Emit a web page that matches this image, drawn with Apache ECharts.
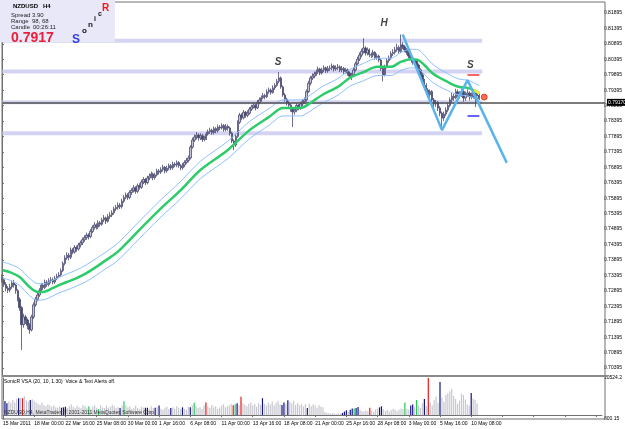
<!DOCTYPE html>
<html>
<head>
<meta charset="utf-8">
<script src="https://cdn.jsdelivr.net/npm/echarts@6/dist/echarts.min.js"></script>
<style>
html, body { margin: 0; padding: 0; background: #fff; }
#chart { width: 625px; height: 429px; }
</style>
</head>
<body>
<div id="chart"></div>
<script>
// NZDUSD H4, prices in 1/10000, one entry per bar
const firstOpen = 7330;
const closes = [
  7325,7310,7298,7292,7302,7315,7308,7290,7262,7235,
  7180,7205,7195,7178,7163,7205,7244,7262,7276,7290,
  7308,7300,7318,7310,7322,7325,7318,7330,7336,7341,
  7355,7378,7396,7405,7398,7422,7415,7430,7425,7438,
  7445,7455,7462,7470,7465,7482,7495,7503,7496,7510,
  7505,7519,7526,7515,7530,7535,7542,7555,7560,7567,
  7562,7580,7592,7600,7592,7608,7615,7623,7612,7630,
  7625,7642,7650,7640,7655,7661,7668,7656,7665,7678,
  7674,7682,7690,7678,7687,7695,7688,7700,7697,7705,
  7695,7688,7697,7705,7712,7720,7755,7778,7788,7794,
  7785,7792,7780,7784,7798,7805,7810,7802,7815,7808,
  7820,7817,7825,7812,7822,7817,7800,7775,7762,7790,
  7835,7859,7850,7868,7858,7865,7878,7885,7891,7882,
  7900,7908,7915,7922,7918,7934,7940,7932,7947,7955,
  7968,7979,7950,7924,7910,7898,7891,7880,7869,7875,
  7890,7882,7895,7902,7908,7935,7962,7979,7985,7992,
  7998,8008,7995,8005,8012,8002,8010,8011,8018,8008,
  8012,8015,8005,8010,8000,8005,7995,7985,7989,8005,
  8025,8040,8053,8065,8076,8060,8070,8055,8053,8062,
  8045,8050,8037,8010,7989,8015,8035,8044,8058,8062,
  8070,8078,8065,8086,8080,8070,8062,8050,8044,8030,
  8035,8021,8005,7989,7970,7955,7940,7925,7935,7908,
  7895,7900,7882,7865,7849,7862,7875,7890,7908,7920,
  7915,7934,7928,7924,7935,7914,7925,7930,7918,7921,
  7930,7911,7922,7917
];
const highs = [
  7342,7332,7318,7305,7312,7322,7325,7312,7295,7268,
  7240,7215,7212,7200,7185,7212,7252,7270,7285,7298,
  7315,7314,7326,7324,7330,7334,7332,7338,7345,7350,
  7362,7385,7405,7414,7412,7430,7428,7438,7436,7445,
  7452,7462,7470,7478,7476,7490,7502,7512,7508,7518,
  7516,7526,7535,7530,7538,7544,7550,7562,7568,7576,
  7574,7588,7600,7608,7606,7615,7622,7632,7628,7637,
  7638,7650,7658,7655,7662,7670,7676,7672,7672,7685,
  7684,7690,7698,7694,7695,7702,7700,7708,7706,7712,
  7710,7700,7704,7712,7720,7728,7762,7786,7796,7804,
  7800,7800,7798,7792,7805,7812,7818,7815,7822,7820,
  7828,7826,7832,7830,7830,7828,7822,7805,7780,7798,
  7842,7866,7865,7875,7872,7874,7885,7892,7900,7896,
  7908,7916,7922,7930,7928,7942,7948,7945,7955,7962,
  7976,7998,7984,7955,7930,7915,7905,7896,7885,7884,
  7898,7895,7902,7910,7916,7942,7970,7986,7994,8000,
  8006,8016,8012,8012,8020,8016,8018,8020,8026,8022,
  8020,8024,8020,8018,8015,8012,8010,8000,7996,8012,
  8032,8048,8062,8074,8108,8082,8078,8075,8062,8070,
  8066,8058,8055,8042,8015,8022,8042,8052,8066,8072,
  8080,8090,8084,8120,8095,8086,8076,8068,8058,8050,
  8042,8040,8026,8010,7995,7976,7962,7946,7942,7940,
  7914,7908,7905,7888,7870,7870,7884,7898,7916,7930,
  7928,7944,7942,7936,7945,7940,7935,7942,7936,7932,
  7940,7935,7932,7928
];
const lows = [
  7315,7302,7288,7282,7285,7296,7300,7280,7255,7225,
  7098,7170,7182,7165,7150,7158,7198,7238,7255,7270,
  7284,7292,7295,7302,7304,7314,7310,7312,7324,7330,
  7336,7350,7372,7390,7388,7392,7408,7410,7416,7420,
  7430,7438,7448,7455,7456,7460,7476,7488,7488,7490,
  7497,7500,7512,7506,7510,7522,7528,7536,7548,7552,
  7554,7556,7574,7586,7584,7586,7600,7608,7604,7606,
  7617,7620,7635,7632,7634,7648,7654,7648,7650,7660,
  7666,7668,7676,7670,7672,7680,7680,7682,7690,7690,
  7688,7680,7682,7690,7700,7706,7715,7750,7772,7780,
  7776,7778,7772,7774,7778,7792,7798,7795,7796,7800,
  7802,7810,7812,7805,7806,7808,7792,7768,7745,7756,
  7785,7830,7842,7845,7850,7852,7860,7872,7880,7874,
  7878,7894,7902,7910,7910,7914,7928,7925,7928,7940,
  7950,7962,7944,7918,7902,7890,7882,7870,7820,7860,
  7868,7874,7876,7888,7895,7902,7930,7955,7972,7978,
  7986,7992,7988,7990,7998,7995,7996,8002,8004,8000,
  8002,8005,7998,7998,7992,7994,7986,7976,7972,7984,
  8000,8020,8034,8046,8058,8052,8052,8046,8044,8046,
  8038,8038,8030,8002,7968,7984,8010,8028,8038,8050,
  8055,8064,8058,8060,8072,8062,8054,8042,8036,8022,
  8022,8012,7996,7980,7960,7945,7930,7915,7916,7898,
  7884,7886,7872,7855,7810,7840,7855,7868,7884,7900,
  7905,7910,7918,7912,7918,7902,7905,7918,7906,7910,
  7912,7885,7905,7908
];
const volumes = [
  4500,4000,3400,3900,3500,4300,3600,4600,4800,4900,
  4800,5300,4200,3800,4300,4500,4100,3600,3200,2900,
  3600,2800,2500,3100,2700,2400,2800,2200,2100,2500,
  2100,2200,2400,2000,2500,3100,2400,2100,2700,2200,
  2000,2900,2500,2100,2500,1800,2400,2800,2100,1700,
  2800,2200,2000,2700,2100,2400,2900,2500,2000,2200,
  2000,2700,3900,2800,2200,2500,1800,2100,2700,2000,
  1700,2400,2100,2100,2100,1800,2500,2000,2100,2200,
  2700,1800,1500,2100,2400,1700,2000,2200,1800,2500,
  2100,1700,2200,1800,1500,2400,2200,2800,3500,2500,
  2000,2200,1700,2700,3600,2400,2000,2900,2200,2500,
  1800,2100,2700,3100,2200,2500,2800,3200,2800,3100,
  3400,2800,5200,3400,2900,2500,3200,3600,2800,3100,
  2400,3500,2900,4800,3200,2700,3600,3100,3900,2800,
  3500,4100,3100,2900,3600,3200,4200,3800,3400,4100,
  2900,3500,2800,3200,2500,3100,2000,3200,2500,3100,
  2700,2100,2900,2400,2200,900,700,500,400,600,
  400,300,500,400,600,1000,1400,900,1500,1900,
  1900,2000,2300,1500,1200,1000,1400,1100,2100,1300,
  900,1600,1800,2200,2500,1700,1200,1500,1000,1400,
  1800,1500,1100,1600,1900,1700,3600,1800,1600,2700,
  3000,2200,4300,2800,2000,3400,4600,2600,10500,3600,
  2800,4200,5200,3500,9400,5000,3800,5700,6200,6800,
  7400,5400,4600,3200,4100,6100,5700,4400,3000,2700,
  6300,4700,4300,3300
];
// VSA signal bars
const navyBars = [1,2,8,14,30,31,32,60,73,74,78,80,86,92,96,120,133,143,144,146,156,174,175,176,178,179,181,182,193,194,209,210,216,224,240];
const redBars = [10,104,118,122,188,218];
const greenBars = [44,49,62,98,119,180,206,212];

// moving average and its channel, read at these bars
const maIdx = [0,4,9,14,18,21,26,29,33,38,43,48,53,57,60,70,80,91,101,115,126,136,143,152,157,163,171,177,184,191,198,203,208,212,215,219,223,227,230,233,237,240,243];
const maMid = [7357,7350,7334,7302,7286,7286,7299,7308,7318,7331,7347,7367,7389,7406,7422,7487,7551,7616,7681,7746,7810,7853,7882,7882,7898,7924,7950,7979,7998,8015,8015,8031,8040,8037,8021,7995,7979,7966,7956,7950,7947,7940,7930];
const maUp = [7383,7376,7361,7330,7313,7312,7324,7333,7344,7357,7374,7394,7416,7434,7450,7515,7579,7644,7709,7774,7838,7880,7908,7908,7924,7951,7977,8006,8026,8043,8043,8061,8072,8070,8053,8025,8007,7993,7982,7975,7972,7964,7954];
const maLo = [7331,7324,7307,7274,7259,7260,7273,7283,7292,7305,7320,7340,7362,7378,7394,7459,7523,7588,7653,7718,7782,7826,7856,7856,7872,7897,7923,7952,7970,7987,7987,8003,8012,8008,7991,7966,7950,7938,7929,7924,7921,7915,7906];

const levels = [0.78, 0.79, 0.80, 0.81];
const zigzag = [[204, 8120], [224, 7810], [237, 7972], [257, 7704]];
const lastPrice = 0.7917;
const targetUp = 0.7989;
const targetDn = 0.7856;
const marks = [[140.5, 8031, 'S'], [194.5, 8157, 'H'], [238.5, 8021, 'S']];

const priceTicks = ['0.70395','0.70895','0.71395','0.71895','0.72395','0.72895','0.73395','0.73895',
  '0.74395','0.74895','0.75395','0.75895','0.76395','0.76895','0.77395','0.77895',
  '0.78395','0.78895','0.79395','0.79895','0.80395','0.80895','0.81395','0.81895'];
const dateLabels = ['15 Mar 2011','18 Mar 00:00','22 Mar 16:00','25 Mar 08:00','30 Mar 00:00','1 Apr 16:00',
  '6 Apr 08:00','11 Apr 00:00','13 Apr 16:00','18 Apr 08:00','21 Apr 00:00','25 Apr 16:00',
  '28 Apr 08:00','3 May 00:00','5 May 16:00','10 May 08:00'];
const volLabels = ['10524.2', '800.15'];

const FONT = "'Liberation Sans Narrow', 'Liberation Sans', sans-serif";
const n = closes.length;

let candles = closes.map((c, i) => [i, (i ? closes[i - 1] : firstOpen) / 1e4, c / 1e4, lows[i] / 1e4, highs[i] / 1e4]);
let vol = volumes.map((v, i) => {
  let color = '#c8c8d0';
  if (navyBars.includes(i)) color = '#14148a';
  if (redBars.includes(i)) color = '#ee1818';
  if (greenBars.includes(i)) color = '#22cc55';
  return { value: [i, v], itemStyle: { color: color } };
});
const toLine = arr => maIdx.map((x, k) => [x, arr[k] / 1e4]);

let series = [];
// round-number levels
levels.forEach(l => {
  series.push({
    type: 'line', xAxisIndex: 0, yAxisIndex: 0, symbol: 'none', silent: true, z: 1,
    data: [[0, l], [n + 0.5, l]],
    lineStyle: { color: '#d4d4f2', width: 4 }
  });
});
series.push({
  type: 'candlestick', xAxisIndex: 0, yAxisIndex: 0, z: 3,
  data: candles, encode: { x: 0, y: [1, 2, 3, 4] }, barWidth: 1.9,
  itemStyle: { color: '#c4c4da', color0: '#4a4a70', borderColor: '#4a4a70', borderColor0: '#4a4a70', borderWidth: 0.8 },
  markLine: {
    silent: true, symbol: ['none', 'none'], animation: false,
    data: [{ yAxis: lastPrice }],
    lineStyle: { color: '#505050', width: 1.5, type: 'solid' },
    label: {
      position: 'end', distance: 2, formatter: lastPrice.toFixed(5),
      backgroundColor: '#000', color: '#fff', fontSize: 5, fontFamily: FONT, padding: [1, 1]
    }
  }
});
[maUp, maLo].forEach(arr => {
  series.push({
    type: 'line', xAxisIndex: 0, yAxisIndex: 0, symbol: 'none', smooth: 0.3, z: 4,
    data: toLine(arr), lineStyle: { color: '#8ec0ff', width: 1 }
  });
});
series.push({
  type: 'line', xAxisIndex: 0, yAxisIndex: 0, symbol: 'none', smooth: 0.3, z: 5,
  data: toLine(maMid), lineStyle: { color: '#2ccc6a', width: 2.5 }
});
series.push({
  type: 'line', xAxisIndex: 0, yAxisIndex: 0, symbol: 'none', z: 6,
  data: toLine(maMid).slice(-2), lineStyle: { color: '#eeee30', width: 2.5 }
});
series.push({
  type: 'line', xAxisIndex: 0, yAxisIndex: 0, symbol: 'none', z: 7,
  data: zigzag.map(p => [p[0], p[1] / 1e4]), lineStyle: { color: '#5ab4ec', width: 2.5 }
});
series.push({
  type: 'line', xAxisIndex: 0, yAxisIndex: 0, symbol: 'none', z: 7,
  data: [[n - 7, targetUp], [n - 1, targetUp]], lineStyle: { color: '#ff3030', width: 1.5 }
});
series.push({
  type: 'line', xAxisIndex: 0, yAxisIndex: 0, symbol: 'none', z: 7,
  data: [[n - 7, targetDn], [n - 1, targetDn]], lineStyle: { color: '#3030ff', width: 1.5 }
});
series.push({
  type: 'scatter', xAxisIndex: 0, yAxisIndex: 0, z: 8, symbolSize: 6,
  data: [[n + 1.5, lastPrice]], itemStyle: { color: '#ff4a20', borderColor: '#b02000', borderWidth: 0.8 }
});
series.push({
  type: 'scatter', xAxisIndex: 0, yAxisIndex: 0, z: 8, symbolSize: 1,
  data: marks.map(m => [m[0], m[1] / 1e4, m[2]]),
  itemStyle: { color: 'rgba(0,0,0,0)' },
  label: {
    show: true, position: 'inside', formatter: p => p.value[2],
    fontSize: 10, fontWeight: 'bold', fontStyle: 'italic', color: '#111', fontFamily: 'Liberation Sans'
  }
});
series.push({
  type: 'bar', xAxisIndex: 1, yAxisIndex: 1, data: vol, barWidth: 1.2
});

const axisColor = '#707070';
let option = {
  animation: false,
  backgroundColor: '#fff',
  grid: [
    { left: 2, right: 20, top: 2, height: 373 },
    { left: 2, right: 20, top: 378, height: 41 },
    { left: 2, right: 20, top: 13, height: 355 }
  ],
  xAxis: [
    { gridIndex: 0, type: 'value', min: 0, max: 307, show: false },
    {
      gridIndex: 1, type: 'value', min: 0, max: 307, interval: 16,
      axisLine: { lineStyle: { color: axisColor, width: 1 } },
      axisTick: { show: true, length: 2, lineStyle: { color: axisColor } },
      splitLine: { show: false },
      axisLabel: {
        fontSize: 5, fontFamily: FONT, color: '#000', align: 'left', margin: 2,
        showMaxLabel: false, formatter: v => dateLabels[v / 16] || ''
      }
    },
    { gridIndex: 2, type: 'value', min: 0, max: 1, show: false }
  ],
  yAxis: [
    {
      gridIndex: 0, type: 'value', min: 0.701682, max: 0.822513, position: 'right', scale: true,
      axisLine: { show: true, lineStyle: { color: axisColor } },
      axisTick: { show: false }, axisLabel: { show: false }, splitLine: { show: false }
    },
    {
      gridIndex: 1, type: 'value', min: -1100, max: 10524.2, interval: 11624.2, position: 'right',
      axisLine: { show: true, lineStyle: { color: axisColor } },
      axisTick: { show: false }, splitLine: { show: false },
      axisLabel: {
        fontSize: 5, fontFamily: FONT, color: '#000', margin: 2,
        formatter: v => v === 10524.2 ? volLabels[0] : (v === -1100 ? volLabels[1] : '')
      }
    },
    {
      gridIndex: 2, type: 'value', min: 0, max: 23, interval: 1, position: 'right',
      axisLine: { show: false },
      axisTick: { show: true, length: 2, lineStyle: { color: axisColor } },
      splitLine: { show: false },
      axisLabel: { fontSize: 5, fontFamily: FONT, color: '#000', margin: 3, formatter: v => priceTicks[v] || '' }
    }
  ],
  graphic: [
    { type: 'rect', shape: { x: 2, y: 2, width: 603, height: 417 }, style: { fill: 'none', stroke: axisColor, lineWidth: 1 }, z: 10 },
    { type: 'line', shape: { x1: 2, y1: 376, x2: 607, y2: 376 }, style: { stroke: '#8a8a8a', lineWidth: 2 }, z: 10 },
    { type: 'rect', shape: { x: 0, y: 0, width: 115, height: 42 }, style: { fill: '#e8e8f8' }, z: 20 },
    { type: 'text', x: 13, y: 6, style: { text: 'NZDUSD   H4', font: 'bold 6px Liberation Sans', fill: '#000', verticalAlign: 'middle' }, z: 21 },
    { type: 'text', x: 11, y: 15, style: { text: 'Spread', font: '6px Liberation Sans', fill: '#222', verticalAlign: 'middle' }, z: 21 },
    { type: 'text', x: 32, y: 15, style: { text: '3.90', font: '6px Liberation Sans', fill: '#222', verticalAlign: 'middle' }, z: 21 },
    { type: 'text', x: 11, y: 21, style: { text: 'Range', font: '6px Liberation Sans', fill: '#222', verticalAlign: 'middle' }, z: 21 },
    { type: 'text', x: 32, y: 21, style: { text: '98, 68', font: '6px Liberation Sans', fill: '#222', verticalAlign: 'middle' }, z: 21 },
    { type: 'text', x: 11, y: 27, style: { text: 'Candle', font: '6px Liberation Sans', fill: '#222', verticalAlign: 'middle' }, z: 21 },
    { type: 'text', x: 33, y: 27, style: { text: '00:26:11', font: '6px Liberation Sans', fill: '#222', verticalAlign: 'middle' }, z: 21 },
    { type: 'text', x: 11, y: 38, style: { text: lastPrice.toFixed(4), font: 'bold 14px Liberation Sans', fill: '#e8203a', verticalAlign: 'middle' }, z: 21 },
    { type: 'text', x: 72, y: 40, style: { text: 'S', font: 'bold 12px Liberation Sans', fill: '#2f3fe0', verticalAlign: 'middle' }, z: 21 },
    { type: 'text', x: 82, y: 31, style: { text: 'o', font: 'bold 8px Liberation Sans', fill: '#111', verticalAlign: 'middle' }, z: 21 },
    { type: 'text', x: 88, y: 25, style: { text: 'n', font: 'bold 8px Liberation Sans', fill: '#111', verticalAlign: 'middle' }, z: 21 },
    { type: 'text', x: 94, y: 19, style: { text: 'i', font: 'bold 7px Liberation Sans', fill: '#111', verticalAlign: 'middle' }, z: 21 },
    { type: 'text', x: 98, y: 14, style: { text: 'c', font: 'bold 7px Liberation Sans', fill: '#111', verticalAlign: 'middle' }, z: 21 },
    { type: 'text', x: 102, y: 8, style: { text: 'R', font: 'bold 10px Liberation Sans', fill: '#f01818', verticalAlign: 'middle' }, z: 21 },
    { type: 'text', x: 4, y: 382, style: { text: 'SonicR VSA (20, 10, 1.30)  Voice & Text Alerts off.', font: '5px ' + FONT, fill: '#000', verticalAlign: 'middle' }, z: 21 },
    { type: 'text', x: 4, y: 413, style: { text: 'NZDUSD,H4, MetaTrader, © 2001-2011 MetaQuotes Software Corp.', font: '5px ' + FONT, fill: '#333', verticalAlign: 'middle' }, z: 21 }
  ],
  series: series
};

let myChart = echarts.init(document.getElementById('chart'));
myChart.setOption(option);
</script>
</body>
</html>
